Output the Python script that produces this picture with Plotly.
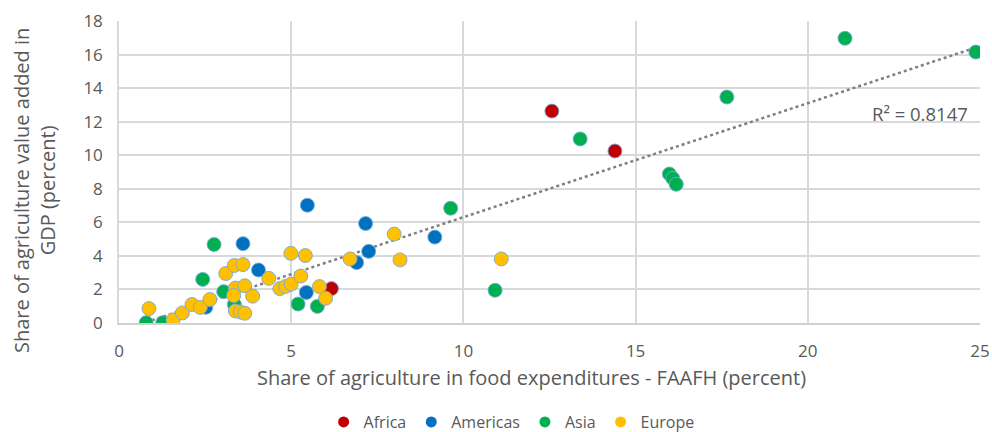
import numpy as np
import plotly.graph_objects as go

# ---- data ----
africa_x = [12.57, 14.40, 6.17]
africa_y = [12.63, 10.25, 2.05]

americas_x = [5.47, 7.16, 7.25, 6.90, 4.05, 5.44, 9.17, 3.60, 2.52]
americas_y = [7.02, 5.93, 4.27, 3.60, 3.16, 1.82, 5.12, 4.73, 0.94]

asia_x = [24.88, 21.08, 17.65, 13.39, 15.98, 16.08, 16.18, 10.92, 9.63,
          5.20, 5.76, 2.76, 2.43, 3.04, 3.35, 0.79, 1.27]
asia_y = [16.15, 16.97, 13.47, 10.97, 8.88, 8.62, 8.27, 1.95, 6.84,
          1.13, 0.99, 4.68, 2.60, 1.87, 1.10, 0.02, 0.02]

europe_x = [0.87, 1.57, 1.84, 2.12, 2.36, 2.64, 3.10, 3.35, 3.60, 3.38,
            3.33, 3.65, 3.88, 3.38, 3.52, 3.65, 4.35, 4.67, 4.84, 5.00,
            4.99, 5.41, 5.28, 5.82, 6.00, 6.71, 7.99, 8.16, 11.10]
europe_y = [0.86, 0.18, 0.60, 1.10, 0.93, 1.40, 2.95, 3.43, 3.48, 2.08,
            1.64, 2.22, 1.60, 0.72, 0.66, 0.58, 2.66, 2.05, 2.18, 2.32,
            4.15, 4.02, 2.80, 2.17, 1.47, 3.82, 5.30, 3.76, 3.82]

region_names = ["Africa", "Americas", "Asia", "Europe"]
region_colors = ["#C00000", "#0070C0", "#00B050", "#FFC000"]
r2_label = "R² = 0.8147"

x_title = "Share of agriculture in food expenditures - FAAFH (percent)"
y_title = "Share of agriculture value added in<br>GDP (percent)"

FONT = "'Open Sans', 'Noto Sans', sans-serif"
TXT = "#595959"

series = [(africa_x, africa_y), (americas_x, americas_y),
          (asia_x, asia_y), (europe_x, europe_y)]

fig = go.Figure()

# linear trendline across all points
all_x = np.array(sum([list(s[0]) for s in series], []))
all_y = np.array(sum([list(s[1]) for s in series], []))
slope, intercept = np.polyfit(all_x, all_y, 1)
tx = np.array([all_x.min(), all_x.max()])
fig.add_trace(go.Scatter(
    x=tx, y=slope * tx + intercept, mode="lines",
    line=dict(color="#7F7F7F", width=2.5, dash="dot"),
    showlegend=False, hoverinfo="skip"))

for name, color, (xs, ys) in zip(region_names, region_colors, series):
    fig.add_trace(go.Scatter(
        x=xs, y=ys, mode="markers", name=name, showlegend=False,
        marker=dict(color=color, size=14,
                    line=dict(color="rgba(120,170,215,0.9)", width=1))))
    # legend entries (smaller markers like the reference)
    fig.add_trace(go.Scatter(
        x=[None], y=[None], mode="markers", name=name,
        marker=dict(color=color, size=11)))

fig.add_annotation(x=23.27, y=12.51, xref="x", yref="y", text=r2_label,
                   showarrow=False, font=dict(family=FONT, size=18.5, color=TXT))

fig.add_annotation(x=0.479, y=-0.182, xref="paper", yref="paper", text=x_title,
                   showarrow=False, xanchor="center", yanchor="middle",
                   font=dict(family=FONT, size=20, color=TXT))
fig.add_annotation(x=-0.0987, y=0.437, xref="paper", yref="paper", text=y_title,
                   textangle=-90, showarrow=False, xanchor="center", yanchor="middle",
                   font=dict(family=FONT, size=20, color=TXT))

fig.update_layout(
    width=992, height=432,
    margin=dict(l=119, r=12, t=21, b=109),
    paper_bgcolor="white", plot_bgcolor="white",
    font=dict(family=FONT, size=17, color=TXT),
    legend=dict(orientation="h", x=0.456, xanchor="center",
                yref="container", y=0.023, yanchor="middle",
                font=dict(size=16, color=TXT),
                itemwidth=30, tracegroupgap=0),
    xaxis=dict(range=[0, 25], dtick=5, showgrid=True, gridcolor="#D9D9D9",
               gridwidth=1.5, zeroline=False, showline=True, linecolor="#D0D0D0",
               linewidth=1.5, ticks="", automargin=False, ticklabelstandoff=12,
               tickfont=dict(size=17, color=TXT)),
    yaxis=dict(range=[0, 18], dtick=2, showgrid=True, gridcolor="#D9D9D9",
               gridwidth=1.5, zeroline=False, showline=True, linecolor="#D9D9D9",
               linewidth=1.5, ticks="", automargin=False, ticklabelstandoff=11,
               tickfont=dict(size=17, color=TXT)),
)

# remove the default page margin so the 992x432 figure fills the window exactly
fig.write_html("out.html", config={"displayModeBar": False},
               post_script="document.body.style.margin='0';")
